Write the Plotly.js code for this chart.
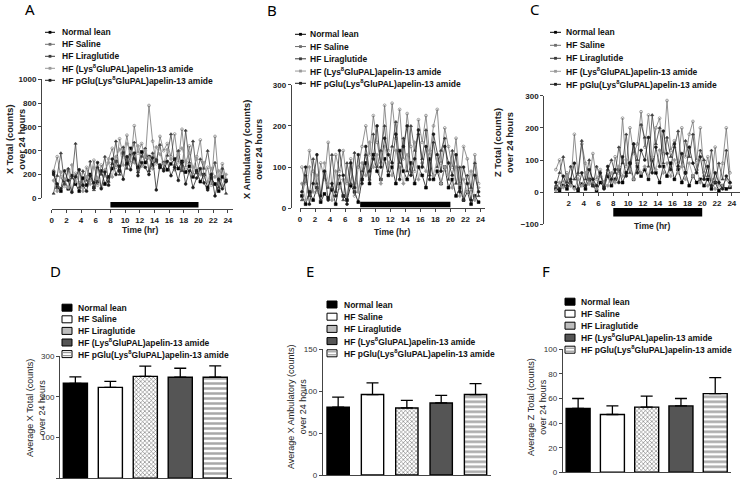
<!DOCTYPE html>
<html><head><meta charset="utf-8">
<script src="https://cdn.plot.ly/plotly-3.0.1.min.js"></script>
<style>html,body{margin:0;padding:0;background:#fff}#chart{width:740px;height:481px}</style>
</head><body><div id="chart"></div>
<script>
// ---------- DATA ----------
const SERIES = ['Normal lean', 'HF Saline', 'HF Liraglutide',
  'HF (Lys<sup>8</sup>GluPAL)apelin-13 amide', 'HF pGlu(Lys<sup>8</sup>GluPAL)apelin-13 amide'];
const TIME_HR = [0.25,0.75,1.25,1.75,2.25,2.75,3.25,3.75,4.25,4.75,5.25,5.75,6.25,6.75,7.25,7.75,
  8.25,8.75,9.25,9.75,10.25,10.75,11.25,11.75,12.25,12.75,13.25,13.75,14.25,14.75,15.25,15.75,
  16.25,16.75,17.25,17.75,18.25,18.75,19.25,19.75,20.25,20.75,21.25,21.75,22.25,22.75,23.25,23.75];
const DARK_PHASE = [8, 20];

// X Total (counts)
const XTOT_NL   = [220,90,60,150,80,190,120,60, 170,110,200,90,140,230,120,180, 250,310,230,380,290,420,330,260, 390,300,350,280,320,260,300,240, 290,330,250,310,220,270,180,230, 140,200,90,170,120,60,180,150];
const XTOT_SAL  = [230,350,180,100,240,60,210,130, 90,260,150,320,110,280,190,330, 420,260,500,350,530,300,610,380, 460,330,780,480,290,520,400,460, 350,540,300,580,260,440,200,350, 490,180,260,110,520,150,290,160];
const XTOT_LIRA = [40,190,380,120,250,170,460,90, 230,150,310,70,260,200,350,140, 290,480,200,430,250,370,470,220, 350,420,230,380,310,450,250,360, 540,280,400,230,570,300,480,210, 330,250,400,190,300,90,250,40];
const XTOT_LYS  = [150,60,220,160,90,280,140,210, 60,180,120,260,170,90,240,300, 180,350,410,280,460,390,300,440, 270,400,340,250,430,370,290,410, 330,240,370,420,310,380,260,330, 200,300,140,250,180,230,110,200];
const XTOT_PGLU = [200,120,80,230,150,50,180,240, 110,60,190,130,300,80,220,110, 330,200,270,160,350,240,380,190, 300,260,200,340,70,280,230,310, 190,260,150,300,120,230,90,170, 250,130,70,200,20,160,80,140];

// X Ambulatory (counts)
const XAMB_NL   = [30,10,40,20,50,15,35,25, 45,10,60,30,20,55,40,15, 70,110,60,130,90,70,120,80, 100,60,140,90,70,110,60,100, 80,50,120,70,90,60,100,50, 70,30,50,20,40,10,30,15];
const XAMB_SAL  = [100,60,140,90,40,110,70,160, 50,130,90,140,60,120,30,100, 150,200,130,225,160,110,250,140, 255,170,240,120,230,150,90,215, 160,225,130,200,240,110,195,150, 100,170,60,150,120,40,130,60];
const XAMB_LIRA = [20,80,30,120,60,20,90,50, 130,40,80,20,110,60,135,40, 90,130,70,180,100,140,200,90, 150,210,110,170,90,200,140,180, 120,190,80,160,100,140,170,70, 140,60,100,20,80,50,110,30];
const XAMB_LYS  = [60,20,100,40,80,30,110,60, 20,90,50,70,30,100,60,40, 110,80,160,100,130,60,150,110, 80,140,100,60,130,90,160,70, 110,90,140,80,120,60,100,80, 50,100,30,70,40,90,20,50];
const XAMB_PGLU = [40,100,10,60,130,30,90,20, 60,30,140,80,10,110,50,130, 60,150,90,120,200,100,170,130, 110,180,70,150,200,80,120,190, 100,150,70,180,130,90,150,110, 80,130,40,100,60,20,80,40];

// Z Total (counts)
const ZTOT_NL   = [10,5,20,10,30,15,5,25, 10,40,20,5,30,15,50,20, 40,70,30,60,90,40,80,50, 70,40,100,60,30,80,50,90, 40,70,30,60,20,50,30,40, 20,40,10,30,5,20,10,15];
const ZTOT_SAL  = [70,100,30,60,20,180,50,150, 90,30,120,40,70,20,60,30, 110,60,230,80,200,120,150,250, 140,240,100,200,230,120,285,130, 160,90,200,110,180,220,100,200, 60,110,40,140,20,90,200,60];
const ZTOT_LIRA = [20,60,110,30,80,40,60,160, 40,100,20,80,50,30,70,100, 60,140,90,180,60,150,100,210, 170,80,240,150,200,90,170,110, 140,190,80,160,110,180,70,130, 100,50,130,30,90,40,130,30];
const ZTOT_LYS  = [5,30,15,50,20,10,40,20, 60,25,40,10,50,30,20,60, 30,80,50,100,70,40,90,60, 80,50,110,70,130,60,90,50, 100,60,80,40,90,50,70,30, 50,20,40,10,30,20,40,20];
const ZTOT_PGLU = [30,10,50,20,40,90,10,60, 20,70,40,20,60,10,80,40, 70,30,110,50,90,150,60,130, 100,170,60,140,80,190,120,70, 150,80,120,60,140,90,60,110, 40,80,20,60,30,10,50,30];

// 24 h averages (mean, SEM)
const CATEGORIES = ['Normal lean', 'HF Saline', 'HF Liraglutide', 'HF (Lys8GluPAL)apelin-13 amide', 'HF pGlu(Lys8GluPAL)apelin-13 amide'];
const XTOT_MEAN = [233, 223, 250, 248, 248];
const XTOT_SEM  = [16, 15, 25, 22, 28];
const XAMB_MEAN = [81, 96, 80, 86, 96];
const XAMB_SEM  = [12, 14, 9, 9, 13];
const ZTOT_MEAN = [52, 47, 53, 54, 64];
const ZTOT_SEM  = [8, 7, 9, 6, 13];

const X_TICKS_C = [2,4,6,8,10,12,14,16,18,20,22,24];

// ---------- STYLE / LAYOUT ----------
const W = 740, H = 481;
const px = x => x / W, py = y => 1 - y / H;
const FAM = 'Liberation Sans, Arial, sans-serif';
const TS_COLORS = ['#000000', '#6e6e6e', '#3a3a3a', '#9a9a9a', '#1c1c1c'];
const TS_SYMBOLS = ['square', 'circle-open', 'triangle-up', 'diamond', 'circle'];
const BAR_FILL = ['#000000', '#ffffff', '#ffffff', '#555555', '#ffffff'];
const BAR_PATTERN = ['', '', 'x', '', '-'];
const BAR_FG = ['#000000', '#000000', '#707070', '#000000', '#a8a8a8'];
const BAR_PSIZE = [6, 6, 3, 6, 5];
const BAR_SOLID = [0.3, 0.3, 0.35, 0.3, 0.5];

const TICKFONT_TOP = {family: FAM, size: 8, color: '#222', weight: 'bold'};
const TICKFONT_BOT = {family: FAM, size: 8, color: '#333'};
const LEGFONT = {family: FAM, size: 8.5, color: '#111', weight: 'bold'};

function ax(extra, font) {
  return Object.assign({showgrid: false, zeroline: false, showline: true, linecolor: '#444', linewidth: 1,
    ticks: 'outside', ticklen: 3, tickwidth: 1, tickcolor: '#444', tickfont: font || TICKFONT_TOP,
    fixedrange: true}, extra);
}

const traces = [];
function addTs(dataList, xa, ya) {
  dataList.forEach((ys, i) => traces.push({
    type: 'scatter', mode: 'lines+markers', x: TIME_HR, y: ys, xaxis: xa, yaxis: ya,
    line: {color: TS_COLORS[i], width: 0.75},
    marker: {size: 2.8, color: TS_COLORS[i], symbol: TS_SYMBOLS[i], line: {width: 0.6, color: TS_COLORS[i]}},
    name: SERIES[i], showlegend: false, hoverinfo: 'skip'
  }));
}
addTs([XTOT_NL, XTOT_SAL, XTOT_LIRA, XTOT_LYS, XTOT_PGLU], 'x', 'y');
addTs([XAMB_NL, XAMB_SAL, XAMB_LIRA, XAMB_LYS, XAMB_PGLU], 'x2', 'y2');
addTs([ZTOT_NL, ZTOT_SAL, ZTOT_LIRA, ZTOT_LYS, ZTOT_PGLU], 'x3', 'y3');

function addBars(mean, sem, xa, ya, width) {
  CATEGORIES.forEach((cat, i) => {
    const marker = {color: BAR_FILL[i], line: {color: '#000', width: 1.4}};
    if (BAR_PATTERN[i]) {
      marker.pattern = {shape: BAR_PATTERN[i], fgcolor: BAR_FG[i], bgcolor: BAR_FILL[i], size: BAR_PSIZE[i], solidity: BAR_SOLID[i], fillmode: 'replace'};
    }
    traces.push({
      type: 'bar', x: [cat], y: [mean[i]], xaxis: xa, yaxis: ya, width: width,
      marker: marker,
      error_y: {type: 'data', symmetric: false, array: [sem[i]], arrayminus: [0], color: '#000', thickness: 1.3, width: 6},
      showlegend: false, hoverinfo: 'skip', name: cat
    });
  });
}
addBars(XTOT_MEAN, XTOT_SEM, 'x4', 'y4', 0.69);
addBars(XAMB_MEAN, XAMB_SEM, 'x5', 'y5', 0.65);
addBars(ZTOT_MEAN, ZTOT_SEM, 'x6', 'y6', 0.7);

const shapes = [];
const annotations = [];

// dark phase bars
shapes.push({type: 'rect', xref: 'x', yref: 'paper', x0: DARK_PHASE[0], x1: DARK_PHASE[1], y0: py(207.5), y1: py(202), fillcolor: '#000', line: {width: 0}});
shapes.push({type: 'rect', xref: 'x2', yref: 'y2', x0: DARK_PHASE[0], x1: DARK_PHASE[1], y0: 2.5, y1: 16, fillcolor: '#000', line: {width: 0}});
shapes.push({type: 'rect', xref: 'x3', yref: 'y3', x0: DARK_PHASE[0], x1: DARK_PHASE[1], y0: -76, y1: -49, fillcolor: '#000', line: {width: 0}});

function txt(x, y, text, font, opts) {
  annotations.push(Object.assign({xref: 'paper', yref: 'paper', x: px(x), y: py(y), text: text, showarrow: false,
    font: font, borderpad: 0, xanchor: 'center', yanchor: 'middle'}, opts || {}));
}

function tsLegend(y0, step, sx0, sx1, tx) {
  SERIES.forEach((name, i) => {
    const y = y0 + i * step, cx = (sx0 + sx1) / 2;
    shapes.push({type: 'line', xref: 'paper', yref: 'paper', x0: px(sx0), x1: px(sx1), y0: py(y), y1: py(y), line: {color: TS_COLORS[i], width: 1}});
    shapes.push({type: 'rect', xref: 'paper', yref: 'paper', x0: px(cx - 1.4), x1: px(cx + 1.4), y0: py(y + 1.4), y1: py(y - 1.4), fillcolor: TS_COLORS[i], line: {width: 0}});
    txt(tx, y, name, LEGFONT, {xanchor: 'left'});
  });
}
tsLegend(32.3, 12, 45, 55, 61);
tsLegend(34.3, 12.25, 295, 306, 309);
tsLegend(32.3, 13, 550, 561, 565);

function barLegend(y0, step, sx, tx) {
  SERIES.forEach((name, i) => {
    const y = y0 + i * step;
    const fills = ['#000000', '#ffffff', '#bdbdbd', '#555555', '#ffffff'];
    shapes.push({type: 'rect', xref: 'paper', yref: 'paper', x0: px(sx), x1: px(sx + 10), y0: py(y + 3.5), y1: py(y - 3.5), fillcolor: fills[i], line: {color: '#000', width: 1}});
    if (i === 4) {
      [-1.5, 1.5].forEach(d => shapes.push({type: 'line', xref: 'paper', yref: 'paper', x0: px(sx + 0.8), x1: px(sx + 9.2), y0: py(y + d), y1: py(y + d), line: {color: '#999', width: 1.2}}));
    }
    txt(tx, y, name, LEGFONT, {xanchor: 'left'});
  });
}
barLegend(307.7, 11.6, 62, 77);
barLegend(304.5, 12.2, 327, 343);
barLegend(301.7, 12, 565, 580);

// panel letters
const LETTER = {family: 'Noto Sans, Liberation Sans, sans-serif', size: 15, color: '#000'};
txt(30, 9, 'A', LETTER); txt(272, 10, 'B', LETTER); txt(535, 9, 'C', LETTER);
txt(55, 271, 'D', LETTER); txt(310, 271, 'E', LETTER); txt(546, 271, 'F', LETTER);

// axis titles
const YT_TOP = {family: FAM, size: 9.3, color: '#222', weight: 'bold'};
const YT_BOT = {family: FAM, size: 9, color: '#222'};
txt(16, 139, 'X Total (counts)<br>over 24 hours', YT_TOP, {textangle: -90});
txt(253, 150, 'X Ambulatory (counts)<br>over 24 hours', YT_TOP, {textangle: -90});
txt(504, 143, 'Z Total (counts)<br>over 24 hours', YT_TOP, {textangle: -90});
txt(36, 408, 'Average X Total (counts)<br>over 24 hours', YT_BOT, {textangle: -90});
txt(297, 407, 'Average X Ambulatory (counts)<br>over 24 hours', YT_BOT, {textangle: -90});
txt(537, 407, 'Average Z Total (counts)<br>over 24 hours', YT_BOT, {textangle: -90});
const XT = {family: FAM, size: 8.5, color: '#222', weight: 'bold'};
txt(140, 230, 'Time (hr)', XT);
txt(392, 232, 'Time (hr)', XT);
txt(652, 226, 'Time (hr)', XT);

const layout = {
  width: W, height: H, margin: {l: 0, r: 0, t: 0, b: 0},
  paper_bgcolor: '#fff', plot_bgcolor: 'rgba(0,0,0,0)', showlegend: false, barmode: 'overlay',
  xaxis: ax({domain: [px(51.7), px(233)], range: [0, 24.7], tick0: 0, dtick: 2, anchor: 'free', position: py(209)}),
  yaxis: ax({domain: [py(198.3), py(79.3)], range: [0, 1000], dtick: 200, anchor: 'free', position: px(41)}),
  xaxis2: ax({domain: [px(300), px(485)], range: [0, 24.6], tick0: 0, dtick: 2, anchor: 'y2'}),
  yaxis2: ax({domain: [py(208.3), py(84.7)], range: [0, 300], dtick: 100, anchor: 'free', position: px(290.7)}),
  xaxis3: ax({domain: [px(554), 1], range: [0, 25.1], tickmode: 'array', tickvals: X_TICKS_C, anchor: 'free', position: py(192.2)}),
  yaxis3: ax({domain: [py(224.3), py(95.7)], range: [-100, 300], dtick: 100, anchor: 'free', position: px(543.3)}),
  xaxis4: ax({domain: [px(60), px(232)], range: [-0.44, 4.48], type: 'category', ticks: '', showticklabels: false, anchor: 'y4'}, TICKFONT_BOT),
  yaxis4: ax({domain: [py(478.3), py(356)], range: [0, 300], dtick: 100, anchor: 'x4'}, TICKFONT_BOT),
  xaxis5: ax({domain: [px(322.7), px(491)], range: [-0.45, 4.45], type: 'category', ticks: '', showticklabels: false, anchor: 'y5'}, TICKFONT_BOT),
  yaxis5: ax({domain: [py(475), py(349.3)], range: [0, 150], dtick: 50, anchor: 'x5'}, TICKFONT_BOT),
  xaxis6: ax({domain: [px(562.7), px(731)], range: [-0.45, 4.46], type: 'category', ticks: '', showticklabels: false, anchor: 'y6'}, TICKFONT_BOT),
  yaxis6: ax({domain: [py(472.3), py(349.3)], range: [0, 100], dtick: 20, anchor: 'x6'}, TICKFONT_BOT),
  shapes: shapes, annotations: annotations
};

Plotly.newPlot('chart', traces, layout, {displayModeBar: false, staticPlot: true});
</script>
</body></html>
